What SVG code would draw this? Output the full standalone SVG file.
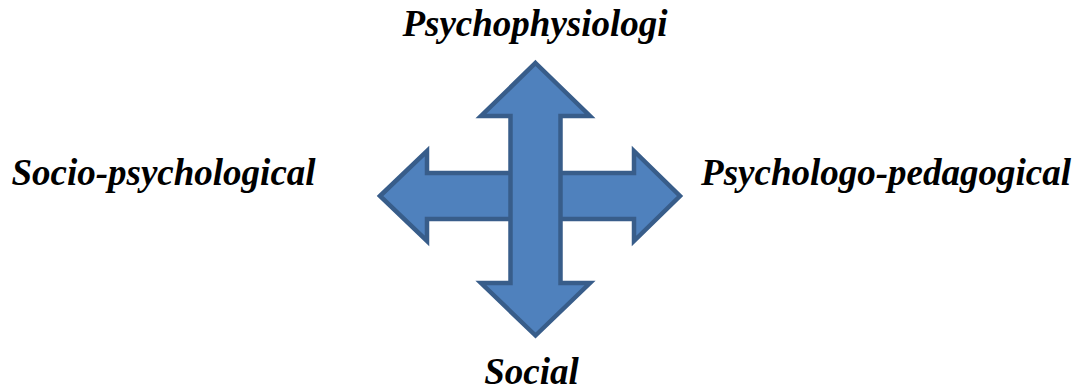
<svg xmlns="http://www.w3.org/2000/svg" width="1083" height="390" viewBox="0 0 1083 390">
<style>
.arrow{fill:#4F81BD;stroke:#385D8A;stroke-width:4.5;stroke-linejoin:miter}
.lbl{font-family:"Liberation Serif","Times New Roman",serif;font-weight:bold;font-style:italic;font-size:37px;fill:#000}
</style>
<rect width="1083" height="390" fill="#fff"/>
<g id="connectors">
<polygon id="horizontal-arrow" class="arrow" points="380,196 427,151 427,173 634,173 634,151 680,196 634,241 634,219 427,219 427,241"/>
<polygon id="vertical-arrow" class="arrow" points="535.5,63 590,116 560.5,116 560.5,283 590,283 535.5,335.5 481,283 510.5,283 510.5,116 481,116"/>
</g>
<g id="node-top"><text class="lbl" x="535" y="36" text-anchor="middle">Psychophysiologi</text></g>
<g id="node-left"><text class="lbl" x="163.5" y="185" text-anchor="middle">Socio-psychological</text></g>
<g id="node-right"><text class="lbl" x="886" y="185" text-anchor="middle">Psychologo-pedagogical</text></g>
<g id="node-bottom"><text class="lbl" x="531.5" y="384" text-anchor="middle">Social</text></g>
</svg>
